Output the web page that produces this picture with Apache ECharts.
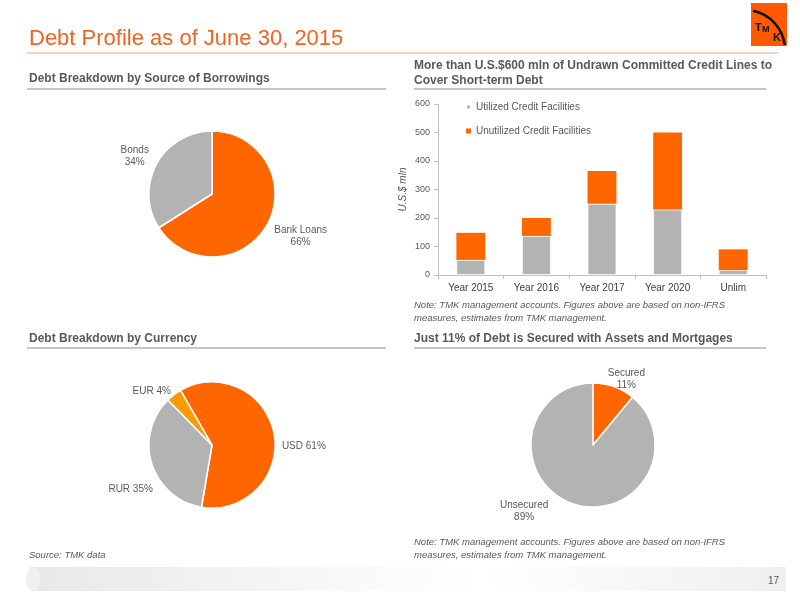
<!DOCTYPE html>
<html><head><meta charset="utf-8">
<script src="https://cdn.jsdelivr.net/npm/echarts@6/dist/echarts.min.js"></script>
<style>html,body{margin:0;padding:0;background:#fff}#c{width:800px;height:600px}</style>
</head><body><div id="c"></div>
<script>
// ---- data ----
var barCategories = ['Year 2015', 'Year 2016', 'Year 2017', 'Year 2020', 'Unlim'];
var utilized = [53, 137, 250, 230, 17];
var unutilized = [95, 63, 115, 270, 73];
var yTicks = [0, 100, 200, 300, 400, 500, 600];
var sourceNames = ['Bank Loans', 'Bonds'];
var sourceValues = [66, 34];
var currencyNames = ['USD', 'RUR', 'EUR'];
var currencyValues = [61, 35, 4];
var securedNames = ['Secured', 'Unsecured'];
var securedValues = [11, 89];

var ORANGE = '#ff6600', GRAY = '#b3b3b3', EURC = '#ff9900';
var TXT = '#595959';
var NARROW = '"Liberation Sans Narrow", "Liberation Sans", Arial, sans-serif';
var SANS = '"Liberation Sans", Arial, sans-serif';

// per-slice label placement tweaks (style only)
function pieData(names, values, colors, lines) {
  return names.map(function (n, i) {
    var o = { name: n, value: values[i], itemStyle: { color: colors[i] } };
    if (lines[i]) o.labelLine = lines[i];
    return o;
  });
}
function nudge(dys) {
  return function (p) { return { dy: dys[p.dataIndex] || 0 }; };
}

var chart = echarts.init(document.getElementById('c'));
var baseLabel = { color: TXT, fontSize: 10, fontFamily: SANS, lineHeight: 12, distanceToLabelLine: 0 };
var twoLine = {
  formatter: '{a|{b}}\n{a|{c}%}',
  distanceToLabelLine: 0,
  rich: { a: { align: 'center', color: TXT, fontSize: 10, fontFamily: SANS, lineHeight: 12 } }
};

chart.setOption({
  animation: false,
  textStyle: { fontFamily: SANS },
  grid: { left: 438, right: 34, top: 104, bottom: 325 },
  legend: {
    data: ['Utilized Credit Facilities', 'Unutilized Credit Facilities'],
    orient: 'vertical', left: 460, top: 97, itemWidth: 5, itemHeight: 5, itemGap: 14,
    icon: 'rect', textStyle: { color: TXT, fontSize: 10, fontFamily: SANS }
  },
  xAxis: {
    type: 'category', data: barCategories,
    axisLine: { lineStyle: { color: '#bfbfbf' } },
    axisTick: { show: true, alignWithLabel: false, length: 4, lineStyle: { color: '#bfbfbf' } },
    axisLabel: { color: '#404040', fontSize: 10, margin: 8 }
  },
  yAxis: {
    type: 'value', min: yTicks[0], max: yTicks[yTicks.length - 1], interval: 100,
    name: 'U.S.$ mln', nameLocation: 'middle', nameGap: 30,
    nameTextStyle: { color: TXT, fontSize: 10, fontStyle: 'italic' },
    axisLine: { show: true, lineStyle: { color: '#bfbfbf' } },
    axisTick: { show: true, length: 4, lineStyle: { color: '#bfbfbf' } },
    splitLine: { show: false },
    axisLabel: { color: TXT, fontSize: 9, margin: 8 }
  },
  series: [
    { name: 'Utilized Credit Facilities', type: 'bar', stack: 's', data: utilized, barWidth: '44%',
      itemStyle: { color: GRAY, borderColor: '#fff', borderWidth: 0.8 } },
    { name: 'Unutilized Credit Facilities', type: 'bar', stack: 's', data: unutilized, barWidth: '44%',
      itemStyle: { color: ORANGE } },
    { type: 'pie', center: [212, 194], radius: 63, startAngle: 90, clockwise: true, avoidLabelOverlap: false,
      itemStyle: { borderColor: '#fff', borderWidth: 1.5 },
      label: Object.assign({ position: 'outside' }, twoLine),
      labelLine: { show: false, length: 8, length2: 0 },
      labelLayout: nudge([8, -3]),
      data: pieData(sourceNames, sourceValues, [ORANGE, GRAY], [
        { length: 8, length2: 0 }, { length: 9, length2: 0 }]) },
    { type: 'pie', center: [212, 445], radius: 63, startAngle: 120, clockwise: true, avoidLabelOverlap: false,
      itemStyle: { borderColor: '#fff', borderWidth: 1.5 },
      label: Object.assign({ position: 'outside', formatter: '{b} {c}%' }, baseLabel),
      labelLine: { show: false, length: 8, length2: 0 },
      labelLayout: nudge([14, 25, 0]),
      data: pieData(currencyNames, currencyValues, [ORANGE, GRAY, EURC], [
        { length: 8, length2: 0 }, { length: 0, length2: -1 }, { length: 5, length2: 0 }]) },
    { type: 'pie', center: [593, 445], radius: 62, startAngle: 90, clockwise: true, avoidLabelOverlap: false,
      itemStyle: { borderColor: '#fff', borderWidth: 1.5 },
      label: Object.assign({ position: 'outside' }, twoLine),
      labelLine: { show: false, length: 8, length2: 0 },
      data: pieData(securedNames, securedValues, [ORANGE, GRAY], [
        { length: 8, length2: -9 }, { length: 8, length2: 21 }]) }
  ],
  graphic: [
    { type: 'text', left: 29, top: 28, style: { text: 'Debt Profile as of June 30, 2015', fill: '#ef6422', font: '22px ' + NARROW } },
    { type: 'line', shape: { x1: 27, y1: 53, x2: 778, y2: 53 }, style: { stroke: '#f4a273', lineWidth: 1 } },
    // logo
    { type: 'rect', shape: { x: 751, y: 3, width: 36, height: 43 }, style: { fill: '#ff5a00' } },
    { type: 'arc', shape: { cx: 745, cy: 50, r: 40, startAngle: -1.37, endAngle: -0.12 }, style: { stroke: '#111', lineWidth: 2.5, fill: null } },
    { type: 'text', left: 755, top: 22, style: { text: 'T', fill: '#111', font: 'bold 11px ' + SANS } },
    { type: 'text', left: 762, top: 25, style: { text: 'M', fill: '#111', font: 'bold 9px ' + SANS } },
    { type: 'text', left: 773, top: 32, style: { text: 'K', fill: '#111', font: 'bold 11px ' + SANS } },
    // section headers
    { type: 'text', left: 29, top: 73, style: { text: 'Debt Breakdown by Source of Borrowings', fill: TXT, font: 'bold 12px ' + NARROW } },
    { type: 'line', shape: { x1: 27, y1: 89, x2: 386, y2: 89 }, style: { stroke: '#8c8c8c', lineWidth: 1 } },
    { type: 'text', left: 414, top: 58, style: { text: 'More than U.S.$600 mln of Undrawn Committed Credit Lines to\nCover Short-term Debt', fill: TXT, font: 'bold 12px ' + NARROW, lineHeight: 15 } },
    { type: 'line', shape: { x1: 414, y1: 89, x2: 766, y2: 89 }, style: { stroke: '#8c8c8c', lineWidth: 1 } },
    { type: 'text', left: 29, top: 333, style: { text: 'Debt Breakdown by Currency', fill: TXT, font: 'bold 12px ' + NARROW } },
    { type: 'line', shape: { x1: 27, y1: 348, x2: 386, y2: 348 }, style: { stroke: '#8c8c8c', lineWidth: 1 } },
    { type: 'text', left: 414, top: 333, style: { text: 'Just 11% of Debt is Secured with Assets and Mortgages', fill: TXT, font: 'bold 12px ' + NARROW } },
    { type: 'line', shape: { x1: 414, y1: 348, x2: 766, y2: 348 }, style: { stroke: '#8c8c8c', lineWidth: 1 } },
    // notes
    { type: 'text', left: 414, top: 299, style: { text: 'Note: TMK management accounts. Figures above are based on non-IFRS\nmeasures, estimates from TMK management.', fill: TXT, font: 'italic 9.5px ' + SANS, lineHeight: 13 } },
    { type: 'text', left: 414, top: 536, style: { text: 'Note: TMK management accounts. Figures above are based on non-IFRS\nmeasures, estimates from TMK management.', fill: TXT, font: 'italic 9.5px ' + SANS, lineHeight: 13 } },
    { type: 'text', left: 29, top: 550, style: { text: 'Source: TMK data', fill: TXT, font: 'italic 9.5px ' + NARROW } },
    // footer bar
    { type: 'rect', shape: { x: 30, y: 567, width: 756, height: 24 }, style: {
      fill: new echarts.graphic.LinearGradient(0, 0, 1, 0, [
        { offset: 0, color: '#e8e8e8' }, { offset: 0.45, color: '#fafafa' }, { offset: 0.6, color: '#ffffff' }, { offset: 1, color: '#efefef' }]) } },
    { type: 'ellipse', shape: { cx: 33, cy: 579, rx: 7, ry: 12 }, style: { fill: '#f0f0f0' } },
    { type: 'text', left: 768, top: 576, style: { text: '17', fill: TXT, font: '10px ' + NARROW } }
  ]
});
</script></body></html>
